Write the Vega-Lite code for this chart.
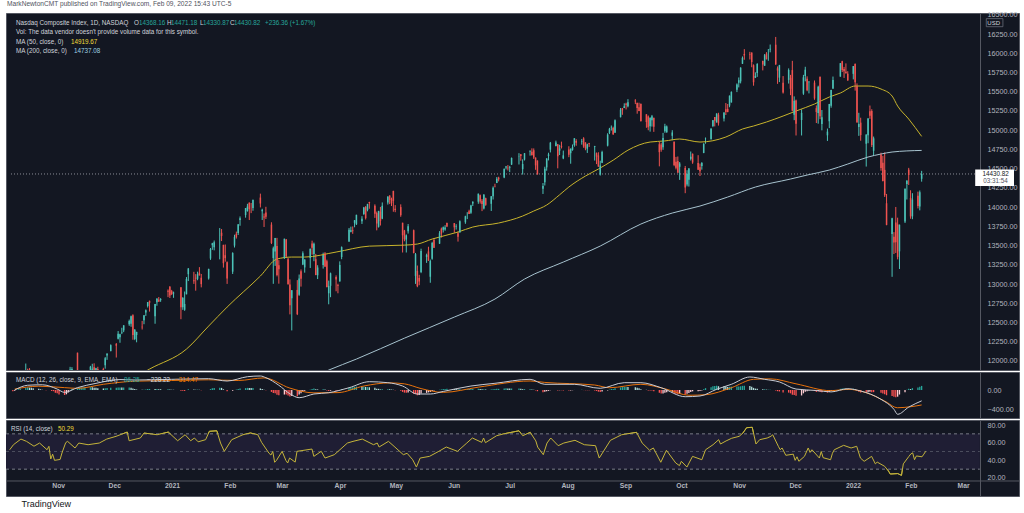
{
"$schema":"https://vega.github.io/schema/vega-lite/v6.json",
"background":"#ffffff",
"padding":{"left":5,"top":0,"right":6,"bottom":0},
"title":{"text":"MarkNewtonCMT published on TradingView.com, Feb 09, 2022 15:43 UTC-5","anchor":"start","frame":"group","fontSize":6.6,"font":"Liberation Sans","fontWeight":"normal","color":"#50535e","offset":3,"dx":1},
"spacing":0,
"datasets":{
"ohlc":[
{"d":"2020-10-05","o":11200,"h":11340,"l":11190,"c":11332,"m":-25},
{"d":"2020-10-06","o":11350,"h":11422,"l":11090,"c":11154,"m":-15},
{"d":"2020-10-07","o":11270,"h":11378,"l":11250,"c":11364,"m":0},
{"d":"2020-10-08","o":11425,"h":11441,"l":11357,"c":11420,"m":15},
{"d":"2020-10-09","o":11475,"h":11580,"l":11457,"c":11580,"m":30},
{"d":"2020-10-12","o":11680,"h":11967,"l":11662,"c":11876,"m":50},
{"d":"2020-10-13","o":11875,"h":11900,"l":11790,"c":11863,"m":55},
{"d":"2020-10-14","o":11890,"h":11908,"l":11720,"c":11768,"m":50},
{"d":"2020-10-15","o":11580,"h":11752,"l":11560,"c":11714,"m":45},
{"d":"2020-10-16","o":11760,"h":11786,"l":11666,"c":11672,"m":38},
{"d":"2020-10-19","o":11714,"h":11776,"l":11440,"c":11479,"m":25},
{"d":"2020-10-20","o":11560,"h":11620,"l":11489,"c":11517,"m":15},
{"d":"2020-10-21","o":11496,"h":11588,"l":11478,"c":11484,"m":5},
{"d":"2020-10-22","o":11488,"h":11541,"l":11380,"c":11506,"m":-2},
{"d":"2020-10-23","o":11540,"h":11548,"l":11451,"c":11548,"m":-5},
{"d":"2020-10-26","o":11460,"h":11580,"l":11223,"c":11358,"m":-20},
{"d":"2020-10-27","o":11391,"h":11449,"l":11357,"c":11431,"m":-25},
{"d":"2020-10-28","o":11230,"h":11230,"l":10997,"c":11005,"m":-60},
{"d":"2020-10-29","o":11064,"h":11315,"l":11020,"c":11186,"m":-70},
{"d":"2020-10-30","o":11104,"h":11115,"l":10822,"c":10912,"m":-95},
{"d":"2020-11-02","o":10997,"h":11040,"l":10856,"c":10958,"m":-105},
{"d":"2020-11-03","o":11011,"h":11202,"l":11005,"c":11161,"m":-90},
{"d":"2020-11-04","o":11449,"h":11623,"l":11349,"c":11590,"m":-50},
{"d":"2020-11-05","o":11789,"h":11924,"l":11755,"c":11891,"m":-5},
{"d":"2020-11-06","o":11854,"h":11920,"l":11749,"c":11895,"m":25},
{"d":"2020-11-09","o":12108,"h":12108,"l":11697,"c":11714,"m":40},
{"d":"2020-11-10","o":11624,"h":11646,"l":11429,"c":11554,"m":45},
{"d":"2020-11-11","o":11714,"h":11797,"l":11674,"c":11787,"m":55},
{"d":"2020-11-12","o":11775,"h":11835,"l":11659,"c":11710,"m":55},
{"d":"2020-11-13","o":11751,"h":11839,"l":11692,"c":11829,"m":58},
{"d":"2020-11-16","o":11884,"h":11937,"l":11808,"c":11925,"m":60},
{"d":"2020-11-17","o":11885,"h":11964,"l":11829,"c":11899,"m":58},
{"d":"2020-11-18","o":11920,"h":11970,"l":11801,"c":11802,"m":50},
{"d":"2020-11-19","o":11782,"h":11912,"l":11733,"c":11905,"m":45},
{"d":"2020-11-20","o":11895,"h":11925,"l":11853,"c":11855,"m":38},
{"d":"2020-11-23","o":11895,"h":11912,"l":11758,"c":11881,"m":32},
{"d":"2020-11-24","o":11945,"h":12051,"l":11900,"c":12037,"m":35},
{"d":"2020-11-25","o":12071,"h":12102,"l":12015,"c":12094,"m":40},
{"d":"2020-11-27","o":12128,"h":12216,"l":12127,"c":12206,"m":48},
{"d":"2020-11-30","o":12220,"h":12234,"l":12045,"c":12199,"m":50},
{"d":"2020-12-01","o":12290,"h":12389,"l":12280,"c":12355,"m":55},
{"d":"2020-12-02","o":12310,"h":12354,"l":12237,"c":12349,"m":55},
{"d":"2020-12-03","o":12369,"h":12432,"l":12350,"c":12377,"m":52},
{"d":"2020-12-04","o":12398,"h":12464,"l":12375,"c":12464,"m":52},
{"d":"2020-12-07","o":12476,"h":12538,"l":12457,"c":12519,"m":52},
{"d":"2020-12-08","o":12484,"h":12590,"l":12445,"c":12583,"m":50},
{"d":"2020-12-09","o":12595,"h":12607,"l":12276,"c":12339,"m":30},
{"d":"2020-12-10","o":12285,"h":12415,"l":12271,"c":12405,"m":20},
{"d":"2020-12-11","o":12338,"h":12380,"l":12243,"c":12378,"m":10},
{"d":"2020-12-14","o":12446,"h":12521,"l":12409,"c":12440,"m":5},
{"d":"2020-12-15","o":12530,"h":12595,"l":12478,"c":12595,"m":8},
{"d":"2020-12-16","o":12631,"h":12670,"l":12586,"c":12658,"m":12},
{"d":"2020-12-17","o":12714,"h":12765,"l":12695,"c":12765,"m":20},
{"d":"2020-12-18","o":12782,"h":12785,"l":12642,"c":12756,"m":22},
{"d":"2020-12-21","o":12583,"h":12742,"l":12484,"c":12742,"m":20},
{"d":"2020-12-22","o":12765,"h":12817,"l":12718,"c":12808,"m":22},
{"d":"2020-12-23","o":12797,"h":12832,"l":12771,"c":12771,"m":18},
{"d":"2020-12-24","o":12791,"h":12817,"l":12769,"c":12805,"m":16},
{"d":"2020-12-28","o":12914,"h":12930,"l":12830,"c":12900,"m":18},
{"d":"2020-12-29","o":12965,"h":12974,"l":12819,"c":12851,"m":12},
{"d":"2020-12-30","o":12907,"h":12924,"l":12857,"c":12870,"m":8},
{"d":"2020-12-31","o":12878,"h":12902,"l":12821,"c":12888,"m":5},
{"d":"2021-01-04","o":12958,"h":12958,"l":12543,"c":12699,"m":-15},
{"d":"2021-01-05","o":12698,"h":12831,"l":12665,"c":12819,"m":-15},
{"d":"2021-01-06","o":12666,"h":12903,"l":12652,"c":12741,"m":-20},
{"d":"2021-01-07","o":12867,"h":13091,"l":12867,"c":13067,"m":0},
{"d":"2021-01-08","o":13128,"h":13208,"l":13039,"c":13202,"m":15},
{"d":"2021-01-11","o":13048,"h":13159,"l":13002,"c":13036,"m":10},
{"d":"2021-01-12","o":13082,"h":13129,"l":12914,"c":13072,"m":8},
{"d":"2021-01-13","o":13069,"h":13161,"l":13050,"c":13129,"m":8},
{"d":"2021-01-14","o":13146,"h":13220,"l":13112,"c":13112,"m":5},
{"d":"2021-01-15","o":13082,"h":13131,"l":12957,"c":12999,"m":-5},
{"d":"2021-01-19","o":13073,"h":13199,"l":13058,"c":13197,"m":0},
{"d":"2021-01-20","o":13332,"h":13469,"l":13314,"c":13457,"m":20},
{"d":"2021-01-21","o":13505,"h":13536,"l":13445,"c":13530,"m":35},
{"d":"2021-01-22","o":13477,"h":13566,"l":13438,"c":13543,"m":42},
{"d":"2021-01-25","o":13635,"h":13728,"l":13321,"c":13636,"m":48},
{"d":"2021-01-26","o":13667,"h":13715,"l":13559,"c":13626,"m":45},
{"d":"2021-01-27","o":13510,"h":13510,"l":13214,"c":13271,"m":15},
{"d":"2021-01-28","o":13375,"h":13514,"l":13291,"c":13337,"m":0},
{"d":"2021-01-29","o":13285,"h":13294,"l":13002,"c":13071,"m":-25},
{"d":"2021-02-01","o":13161,"h":13413,"l":13131,"c":13403,"m":-15},
{"d":"2021-02-02","o":13500,"h":13641,"l":13475,"c":13612,"m":0},
{"d":"2021-02-03","o":13653,"h":13682,"l":13591,"c":13610,"m":8},
{"d":"2021-02-04","o":13662,"h":13777,"l":13638,"c":13778,"m":20},
{"d":"2021-02-05","o":13832,"h":13879,"l":13758,"c":13856,"m":30},
{"d":"2021-02-08","o":13898,"h":13988,"l":13863,"c":13988,"m":40},
{"d":"2021-02-09","o":13950,"h":14043,"l":13941,"c":14008,"m":45},
{"d":"2021-02-10","o":14057,"h":14062,"l":13832,"c":13973,"m":42},
{"d":"2021-02-11","o":14027,"h":14054,"l":13922,"c":14026,"m":40},
{"d":"2021-02-12","o":13988,"h":14095,"l":13953,"c":14095,"m":40},
{"d":"2021-02-16","o":14124,"h":14175,"l":13996,"c":14047,"m":32},
{"d":"2021-02-17","o":13946,"h":13979,"l":13832,"c":13966,"m":20},
{"d":"2021-02-18","o":13877,"h":13917,"l":13742,"c":13865,"m":5},
{"d":"2021-02-19","o":13930,"h":14004,"l":13846,"c":13874,"m":-5},
{"d":"2021-02-22","o":13773,"h":13803,"l":13520,"c":13534,"m":-40},
{"d":"2021-02-23","o":13338,"h":13487,"l":13003,"c":13465,"m":-65},
{"d":"2021-02-24","o":13424,"h":13600,"l":13236,"c":13598,"m":-70},
{"d":"2021-02-25","o":13494,"h":13600,"l":13100,"c":13119,"m":-100},
{"d":"2021-02-26","o":13246,"h":13311,"l":13005,"c":13192,"m":-110},
{"d":"2021-03-01","o":13338,"h":13590,"l":13326,"c":13589,"m":-95},
{"d":"2021-03-02","o":13580,"h":13586,"l":13339,"c":13359,"m":-95},
{"d":"2021-03-03","o":13321,"h":13339,"l":12994,"c":12998,"m":-115},
{"d":"2021-03-04","o":12993,"h":13061,"l":12606,"c":12723,"m":-135},
{"d":"2021-03-05","o":12817,"h":12921,"l":12397,"c":12921,"m":-125},
{"d":"2021-03-08","o":12924,"h":13051,"l":12597,"c":12609,"m":-130},
{"d":"2021-03-09","o":12861,"h":13124,"l":12847,"c":13073,"m":-95},
{"d":"2021-03-10","o":13165,"h":13190,"l":12967,"c":13068,"m":-70},
{"d":"2021-03-11","o":13254,"h":13425,"l":13246,"c":13399,"m":-35},
{"d":"2021-03-12","o":13216,"h":13320,"l":13148,"c":13320,"m":-15},
{"d":"2021-03-15","o":13339,"h":13460,"l":13209,"c":13460,"m":5},
{"d":"2021-03-16","o":13526,"h":13564,"l":13381,"c":13472,"m":20},
{"d":"2021-03-17","o":13390,"h":13539,"l":13297,"c":13525,"m":30},
{"d":"2021-03-18","o":13324,"h":13392,"l":13115,"c":13117,"m":15},
{"d":"2021-03-19","o":13114,"h":13245,"l":13065,"c":13215,"m":12},
{"d":"2021-03-22","o":13249,"h":13408,"l":13201,"c":13378,"m":18},
{"d":"2021-03-23","o":13397,"h":13415,"l":13221,"c":13228,"m":12},
{"d":"2021-03-24","o":13295,"h":13317,"l":12956,"c":12962,"m":-10},
{"d":"2021-03-25","o":12880,"h":13045,"l":12737,"c":12977,"m":-20},
{"d":"2021-03-26","o":12977,"h":13149,"l":12829,"c":13139,"m":-15},
{"d":"2021-03-29","o":13091,"h":13113,"l":12906,"c":13060,"m":-15},
{"d":"2021-03-30","o":12987,"h":13004,"l":12880,"c":12977,"m":-15},
{"d":"2021-03-31","o":13034,"h":13295,"l":13034,"c":13247,"m":0},
{"d":"2021-04-01","o":13352,"h":13489,"l":13323,"c":13480,"m":20},
{"d":"2021-04-05","o":13552,"h":13729,"l":13548,"c":13705,"m":45},
{"d":"2021-04-06","o":13681,"h":13746,"l":13672,"c":13698,"m":55},
{"d":"2021-04-07","o":13698,"h":13749,"l":13653,"c":13688,"m":60},
{"d":"2021-04-08","o":13796,"h":13830,"l":13738,"c":13830,"m":68},
{"d":"2021-04-09","o":13778,"h":13901,"l":13768,"c":13900,"m":72},
{"d":"2021-04-12","o":13815,"h":13882,"l":13781,"c":13850,"m":70},
{"d":"2021-04-13","o":13911,"h":14003,"l":13899,"c":13996,"m":72},
{"d":"2021-04-14","o":14005,"h":14012,"l":13839,"c":13857,"m":62},
{"d":"2021-04-15","o":13962,"h":14043,"l":13945,"c":14039,"m":62},
{"d":"2021-04-16","o":14067,"h":14069,"l":13979,"c":14052,"m":58},
{"d":"2021-04-19","o":14017,"h":14036,"l":13860,"c":13914,"m":45},
{"d":"2021-04-20","o":13922,"h":13942,"l":13698,"c":13787,"m":28},
{"d":"2021-04-21","o":13744,"h":13951,"l":13734,"c":13951,"m":25},
{"d":"2021-04-22","o":13940,"h":14003,"l":13761,"c":13818,"m":12},
{"d":"2021-04-23","o":13850,"h":14061,"l":13843,"c":14017,"m":15},
{"d":"2021-04-26","o":14059,"h":14139,"l":14033,"c":14138,"m":18},
{"d":"2021-04-27","o":14151,"h":14153,"l":14039,"c":14091,"m":15},
{"d":"2021-04-28","o":14101,"h":14123,"l":14014,"c":14051,"m":10},
{"d":"2021-04-29","o":14211,"h":14212,"l":13940,"c":14082,"m":5},
{"d":"2021-04-30","o":13978,"h":14026,"l":13934,"c":13963,"m":-5},
{"d":"2021-05-03","o":14000,"h":14036,"l":13874,"c":13895,"m":-15},
{"d":"2021-05-04","o":13797,"h":13797,"l":13410,"c":13634,"m":-40},
{"d":"2021-05-05","o":13695,"h":13704,"l":13556,"c":13582,"m":-55},
{"d":"2021-05-06","o":13577,"h":13645,"l":13410,"c":13633,"m":-60},
{"d":"2021-05-07","o":13685,"h":13780,"l":13656,"c":13752,"m":-55},
{"d":"2021-05-10","o":13700,"h":13708,"l":13400,"c":13402,"m":-80},
{"d":"2021-05-11","o":13106,"h":13404,"l":13002,"c":13389,"m":-85},
{"d":"2021-05-12","o":13171,"h":13241,"l":12959,"c":12972,"m":-110},
{"d":"2021-05-13","o":13079,"h":13120,"l":12985,"c":13032,"m":-105},
{"d":"2021-05-14","o":13156,"h":13460,"l":13142,"c":13430,"m":-75},
{"d":"2021-05-17","o":13352,"h":13395,"l":13275,"c":13380,"m":-60},
{"d":"2021-05-18","o":13424,"h":13485,"l":13301,"c":13303,"m":-50},
{"d":"2021-05-19","o":13095,"h":13318,"l":13017,"c":13300,"m":-40},
{"d":"2021-05-20","o":13330,"h":13549,"l":13316,"c":13535,"m":-20},
{"d":"2021-05-21","o":13574,"h":13599,"l":13469,"c":13471,"m":-10},
{"d":"2021-05-24","o":13525,"h":13688,"l":13522,"c":13661,"m":5},
{"d":"2021-05-25","o":13720,"h":13734,"l":13604,"c":13657,"m":12},
{"d":"2021-05-26","o":13705,"h":13748,"l":13670,"c":13738,"m":20},
{"d":"2021-05-27","o":13710,"h":13765,"l":13693,"c":13736,"m":22},
{"d":"2021-05-28","o":13792,"h":13799,"l":13740,"c":13749,"m":24},
{"d":"2021-06-01","o":13792,"h":13793,"l":13667,"c":13737,"m":22},
{"d":"2021-06-02","o":13747,"h":13778,"l":13708,"c":13756,"m":20},
{"d":"2021-06-03","o":13660,"h":13682,"l":13552,"c":13615,"m":12},
{"d":"2021-06-04","o":13671,"h":13828,"l":13671,"c":13815,"m":15},
{"d":"2021-06-07","o":13803,"h":13888,"l":13783,"c":13881,"m":18},
{"d":"2021-06-08","o":13924,"h":13934,"l":13844,"c":13925,"m":20},
{"d":"2021-06-09","o":13945,"h":13966,"l":13910,"c":13911,"m":18},
{"d":"2021-06-10","o":13926,"h":14030,"l":13912,"c":14020,"m":20},
{"d":"2021-06-11","o":14047,"h":14075,"l":14014,"c":14069,"m":22},
{"d":"2021-06-14","o":14070,"h":14175,"l":14043,"c":14175,"m":28},
{"d":"2021-06-15","o":14155,"h":14163,"l":14046,"c":14073,"m":22},
{"d":"2021-06-16","o":14084,"h":14106,"l":13948,"c":14040,"m":15},
{"d":"2021-06-17","o":13981,"h":14170,"l":13970,"c":14161,"m":18},
{"d":"2021-06-18","o":14116,"h":14123,"l":14017,"c":14030,"m":10},
{"d":"2021-06-21","o":14043,"h":14143,"l":13950,"c":14141,"m":12},
{"d":"2021-06-22","o":14140,"h":14269,"l":14099,"c":14253,"m":18},
{"d":"2021-06-23","o":14273,"h":14304,"l":14257,"c":14272,"m":20},
{"d":"2021-06-24","o":14313,"h":14391,"l":14312,"c":14370,"m":25},
{"d":"2021-06-25","o":14383,"h":14395,"l":14334,"c":14360,"m":25},
{"d":"2021-06-28","o":14386,"h":14500,"l":14376,"c":14500,"m":32},
{"d":"2021-06-29","o":14515,"h":14535,"l":14490,"c":14528,"m":35},
{"d":"2021-06-30","o":14511,"h":14547,"l":14476,"c":14504,"m":32},
{"d":"2021-07-01","o":14512,"h":14536,"l":14455,"c":14523,"m":30},
{"d":"2021-07-02","o":14553,"h":14645,"l":14548,"c":14639,"m":32},
{"d":"2021-07-06","o":14662,"h":14701,"l":14554,"c":14663,"m":32},
{"d":"2021-07-07","o":14687,"h":14690,"l":14603,"c":14665,"m":28},
{"d":"2021-07-08","o":14493,"h":14621,"l":14423,"c":14560,"m":15},
{"d":"2021-07-09","o":14618,"h":14701,"l":14606,"c":14701,"m":18},
{"d":"2021-07-12","o":14722,"h":14736,"l":14669,"c":14734,"m":18},
{"d":"2021-07-13","o":14719,"h":14764,"l":14669,"c":14678,"m":12},
{"d":"2021-07-14","o":14739,"h":14763,"l":14626,"c":14645,"m":5},
{"d":"2021-07-15","o":14644,"h":14645,"l":14485,"c":14543,"m":-8},
{"d":"2021-07-16","o":14604,"h":14608,"l":14421,"c":14428,"m":-25},
{"d":"2021-07-19","o":14239,"h":14313,"l":14171,"c":14275,"m":-45},
{"d":"2021-07-20","o":14323,"h":14525,"l":14281,"c":14499,"m":-35},
{"d":"2021-07-21","o":14517,"h":14635,"l":14473,"c":14632,"m":-25},
{"d":"2021-07-22","o":14665,"h":14707,"l":14607,"c":14685,"m":-18},
{"d":"2021-07-23","o":14747,"h":14847,"l":14711,"c":14837,"m":-5},
{"d":"2021-07-26","o":14794,"h":14864,"l":14789,"c":14840,"m":0},
{"d":"2021-07-27","o":14818,"h":14819,"l":14504,"c":14660,"m":-8},
{"d":"2021-07-28","o":14734,"h":14810,"l":14677,"c":14763,"m":-5},
{"d":"2021-07-29","o":14792,"h":14851,"l":14762,"c":14779,"m":-5},
{"d":"2021-07-30","o":14633,"h":14735,"l":14623,"c":14673,"m":-10},
{"d":"2021-08-02","o":14749,"h":14791,"l":14649,"c":14681,"m":-12},
{"d":"2021-08-03","o":14701,"h":14761,"l":14564,"c":14761,"m":-8},
{"d":"2021-08-04","o":14744,"h":14814,"l":14733,"c":14780,"m":-5},
{"d":"2021-08-05","o":14805,"h":14896,"l":14785,"c":14895,"m":2},
{"d":"2021-08-06","o":14859,"h":14883,"l":14798,"c":14836,"m":2},
{"d":"2021-08-09","o":14852,"h":14886,"l":14812,"c":14860,"m":3},
{"d":"2021-08-10","o":14894,"h":14909,"l":14771,"c":14788,"m":-2},
{"d":"2021-08-11","o":14840,"h":14842,"l":14739,"c":14765,"m":-5},
{"d":"2021-08-12","o":14760,"h":14824,"l":14704,"c":14816,"m":-5},
{"d":"2021-08-13","o":14832,"h":14835,"l":14782,"c":14823,"m":-5},
{"d":"2021-08-16","o":14783,"h":14796,"l":14605,"c":14793,"m":-8},
{"d":"2021-08-17","o":14701,"h":14710,"l":14559,"c":14656,"m":-20},
{"d":"2021-08-18","o":14672,"h":14713,"l":14525,"c":14526,"m":-35},
{"d":"2021-08-19","o":14425,"h":14603,"l":14410,"c":14542,"m":-40},
{"d":"2021-08-20","o":14577,"h":14733,"l":14572,"c":14715,"m":-30},
{"d":"2021-08-23","o":14799,"h":14960,"l":14789,"c":14942,"m":-10},
{"d":"2021-08-24","o":14965,"h":15030,"l":14949,"c":15019,"m":8},
{"d":"2021-08-25","o":15037,"h":15061,"l":14995,"c":15042,"m":20},
{"d":"2021-08-26","o":15027,"h":15045,"l":14938,"c":14946,"m":22},
{"d":"2021-08-27","o":14968,"h":15140,"l":14967,"c":15130,"m":35},
{"d":"2021-08-30","o":15169,"h":15288,"l":15166,"c":15266,"m":55},
{"d":"2021-08-31","o":15286,"h":15288,"l":15200,"c":15259,"m":62},
{"d":"2021-09-01","o":15289,"h":15349,"l":15287,"c":15310,"m":65},
{"d":"2021-09-02","o":15343,"h":15357,"l":15269,"c":15331,"m":65},
{"d":"2021-09-03","o":15312,"h":15403,"l":15297,"c":15364,"m":62},
{"d":"2021-09-07","o":15385,"h":15403,"l":15339,"c":15374,"m":58},
{"d":"2021-09-08","o":15355,"h":15355,"l":15214,"c":15287,"m":48},
{"d":"2021-09-09","o":15297,"h":15357,"l":15247,"c":15248,"m":35},
{"d":"2021-09-10","o":15339,"h":15348,"l":15115,"c":15115,"m":18},
{"d":"2021-09-13","o":15207,"h":15207,"l":15031,"c":15106,"m":5},
{"d":"2021-09-14","o":15179,"h":15191,"l":14999,"c":15038,"m":-8},
{"d":"2021-09-15","o":15052,"h":15165,"l":14981,"c":15162,"m":-10},
{"d":"2021-09-16","o":15128,"h":15198,"l":15047,"c":15181,"m":-12},
{"d":"2021-09-17","o":15160,"h":15161,"l":14978,"c":15044,"m":-25},
{"d":"2021-09-20","o":14817,"h":14846,"l":14530,"c":14714,"m":-60},
{"d":"2021-09-21","o":14813,"h":14837,"l":14720,"c":14747,"m":-75},
{"d":"2021-09-22","o":14779,"h":14965,"l":14745,"c":14897,"m":-72},
{"d":"2021-09-23","o":14986,"h":15083,"l":14966,"c":15052,"m":-58},
{"d":"2021-09-24","o":14972,"h":15061,"l":14967,"c":15048,"m":-48},
{"d":"2021-09-27","o":14927,"h":15000,"l":14869,"c":14970,"m":-45},
{"d":"2021-09-28","o":14849,"h":14853,"l":14532,"c":14547,"m":-70},
{"d":"2021-09-29","o":14591,"h":14653,"l":14490,"c":14513,"m":-80},
{"d":"2021-09-30","o":14599,"h":14658,"l":14448,"c":14448,"m":-90},
{"d":"2021-10-01","o":14524,"h":14586,"l":14354,"c":14567,"m":-85},
{"d":"2021-10-04","o":14510,"h":14535,"l":14181,"c":14255,"m":-95},
{"d":"2021-10-05","o":14293,"h":14480,"l":14270,"c":14434,"m":-80},
{"d":"2021-10-06","o":14356,"h":14508,"l":14267,"c":14502,"m":-65},
{"d":"2021-10-07","o":14627,"h":14723,"l":14606,"c":14655,"m":-40},
{"d":"2021-10-08","o":14693,"h":14697,"l":14563,"c":14580,"m":-28},
{"d":"2021-10-11","o":14572,"h":14675,"l":14484,"c":14486,"m":-25},
{"d":"2021-10-12","o":14519,"h":14566,"l":14404,"c":14466,"m":-20},
{"d":"2021-10-13","o":14533,"h":14585,"l":14487,"c":14572,"m":-8},
{"d":"2021-10-14","o":14704,"h":14830,"l":14701,"c":14823,"m":18},
{"d":"2021-10-15","o":14894,"h":14905,"l":14824,"c":14897,"m":40},
{"d":"2021-10-18","o":14882,"h":15022,"l":14879,"c":15022,"m":60},
{"d":"2021-10-19","o":15053,"h":15132,"l":15040,"c":15130,"m":78},
{"d":"2021-10-20","o":15170,"h":15170,"l":15049,"c":15122,"m":85},
{"d":"2021-10-21","o":15103,"h":15219,"l":15097,"c":15216,"m":90},
{"d":"2021-10-22","o":15201,"h":15226,"l":15060,"c":15090,"m":80},
{"d":"2021-10-25","o":15152,"h":15236,"l":15114,"c":15227,"m":78},
{"d":"2021-10-26","o":15272,"h":15353,"l":15197,"c":15236,"m":72},
{"d":"2021-10-27","o":15276,"h":15340,"l":15234,"c":15235,"m":62},
{"d":"2021-10-28","o":15320,"h":15451,"l":15298,"c":15448,"m":68},
{"d":"2021-10-29","o":15361,"h":15504,"l":15359,"c":15498,"m":70},
{"d":"2021-11-01","o":15526,"h":15608,"l":15495,"c":15595,"m":72},
{"d":"2021-11-02","o":15618,"h":15685,"l":15556,"c":15650,"m":72},
{"d":"2021-11-03","o":15634,"h":15818,"l":15608,"c":15812,"m":78},
{"d":"2021-11-04","o":15864,"h":15958,"l":15860,"c":15940,"m":88},
{"d":"2021-11-05","o":15991,"h":16053,"l":15915,"c":15972,"m":90},
{"d":"2021-11-08","o":15989,"h":16018,"l":15919,"c":15982,"m":85},
{"d":"2021-11-09","o":16009,"h":16010,"l":15818,"c":15886,"m":70},
{"d":"2021-11-10","o":15844,"h":15855,"l":15578,"c":15623,"m":45},
{"d":"2021-11-11","o":15681,"h":15752,"l":15677,"c":15704,"m":30},
{"d":"2021-11-12","o":15743,"h":15871,"l":15693,"c":15861,"m":25},
{"d":"2021-11-15","o":15900,"h":15904,"l":15777,"c":15853,"m":15},
{"d":"2021-11-16","o":15837,"h":15990,"l":15837,"c":15974,"m":15},
{"d":"2021-11-17","o":15994,"h":16014,"l":15920,"c":15922,"m":8},
{"d":"2021-11-18","o":15992,"h":16055,"l":15902,"c":15993,"m":8},
{"d":"2021-11-19","o":16048,"h":16113,"l":16012,"c":16057,"m":8},
{"d":"2021-11-22","o":16111,"h":16212,"l":15849,"c":15855,"m":-10},
{"d":"2021-11-23","o":15804,"h":15829,"l":15602,"c":15775,"m":-25},
{"d":"2021-11-24","o":15683,"h":15849,"l":15625,"c":15845,"m":-30},
{"d":"2021-11-26","o":15616,"h":15703,"l":15476,"c":15491,"m":-55},
{"d":"2021-11-29","o":15653,"h":15803,"l":15606,"c":15782,"m":-55},
{"d":"2021-11-30","o":15680,"h":15719,"l":15455,"c":15538,"m":-70},
{"d":"2021-12-01","o":15781,"h":15901,"l":15245,"c":15254,"m":-100},
{"d":"2021-12-02","o":15201,"h":15439,"l":15130,"c":15381,"m":-105},
{"d":"2021-12-03","o":15387,"h":15397,"l":14931,"c":15085,"m":-120},
{"d":"2021-12-06","o":15132,"h":15271,"l":14931,"c":15225,"m":-115},
{"d":"2021-12-07","o":15475,"h":15719,"l":15459,"c":15687,"m":-70},
{"d":"2021-12-08","o":15704,"h":15824,"l":15635,"c":15786,"m":-35},
{"d":"2021-12-09","o":15669,"h":15700,"l":15506,"c":15518,"m":-25},
{"d":"2021-12-10","o":15623,"h":15638,"l":15478,"c":15630,"m":-12},
{"d":"2021-12-13","o":15618,"h":15646,"l":15395,"c":15413,"m":-20},
{"d":"2021-12-14","o":15286,"h":15322,"l":15093,"c":15237,"m":-40},
{"d":"2021-12-15","o":15223,"h":15578,"l":15084,"c":15566,"m":-25},
{"d":"2021-12-16","o":15694,"h":15696,"l":15143,"c":15180,"m":-40},
{"d":"2021-12-17","o":15079,"h":15262,"l":14998,"c":15169,"m":-45},
{"d":"2021-12-20","o":14933,"h":15021,"l":14860,"c":14981,"m":-55},
{"d":"2021-12-21","o":15116,"h":15341,"l":15027,"c":15341,"m":-40},
{"d":"2021-12-22","o":15319,"h":15525,"l":15292,"c":15522,"m":-22},
{"d":"2021-12-23","o":15543,"h":15697,"l":15536,"c":15653,"m":0},
{"d":"2021-12-27","o":15696,"h":15871,"l":15696,"c":15871,"m":25},
{"d":"2021-12-28","o":15895,"h":15902,"l":15756,"c":15782,"m":30},
{"d":"2021-12-29","o":15794,"h":15822,"l":15679,"c":15766,"m":32},
{"d":"2021-12-30","o":15758,"h":15868,"l":15736,"c":15741,"m":30},
{"d":"2021-12-31","o":15733,"h":15766,"l":15644,"c":15645,"m":25},
{"d":"2022-01-03","o":15732,"h":15833,"l":15660,"c":15833,"m":28},
{"d":"2022-01-04","o":15859,"h":15868,"l":15514,"c":15623,"m":18},
{"d":"2022-01-05","o":15575,"h":15608,"l":15100,"c":15100,"m":-15},
{"d":"2022-01-06","o":15042,"h":15226,"l":14926,"c":15081,"m":-35},
{"d":"2022-01-07","o":15098,"h":15162,"l":14863,"c":14936,"m":-50},
{"d":"2022-01-10","o":14823,"h":14945,"l":14527,"c":14943,"m":-55},
{"d":"2022-01-11","o":14935,"h":15157,"l":14830,"c":15153,"m":-45},
{"d":"2022-01-12","o":15245,"h":15320,"l":15147,"c":15188,"m":-35},
{"d":"2022-01-13","o":15250,"h":15272,"l":14781,"c":14806,"m":-45},
{"d":"2022-01-14","o":14733,"h":14917,"l":14665,"c":14894,"m":-45},
{"d":"2022-01-18","o":14684,"h":14707,"l":14473,"c":14507,"m":-60},
{"d":"2022-01-19","o":14578,"h":14666,"l":14334,"c":14341,"m":-75},
{"d":"2022-01-20","o":14484,"h":14711,"l":14132,"c":14155,"m":-90},
{"d":"2022-01-21","o":14050,"h":14171,"l":13764,"c":13769,"m":-110},
{"d":"2022-01-24","o":13649,"h":13862,"l":13094,"c":13856,"m":-125},
{"d":"2022-01-25","o":13615,"h":13675,"l":13390,"c":13540,"m":-140},
{"d":"2022-01-26","o":13800,"h":14002,"l":13404,"c":13542,"m":-150},
{"d":"2022-01-27","o":13776,"h":13863,"l":13321,"c":13353,"m":-140},
{"d":"2022-01-28","o":13425,"h":13773,"l":13196,"c":13771,"m":-95},
{"d":"2022-01-31","o":13812,"h":14242,"l":13793,"c":14240,"m":-45},
{"d":"2022-02-01","o":14299,"h":14346,"l":14099,"c":14346,"m":5},
{"d":"2022-02-02","o":14487,"h":14510,"l":14288,"c":14417,"m":25},
{"d":"2022-02-03","o":14118,"h":14219,"l":13849,"c":13879,"m":20},
{"d":"2022-02-04","o":13880,"h":14181,"l":13843,"c":14098,"m":40},
{"d":"2022-02-07","o":14149,"h":14201,"l":13983,"c":14015,"m":55},
{"d":"2022-02-08","o":14007,"h":14216,"l":13958,"c":14194,"m":70},
{"d":"2022-02-09","o":14368.16,"h":14471.18,"l":14330.87,"c":14430.82,"m":86.25}
],
"ma50":[
{"d":"2020-11-20","v":11500},{"d":"2020-12-04","v":11700},{"d":"2020-12-18","v":11895},{"d":"2021-01-07","v":12155},{"d":"2021-01-19","v":12454},{"d":"2021-01-29","v":12701},{"d":"2021-02-16","v":13104},{"d":"2021-02-25","v":13325},{"d":"2021-03-05","v":13351},{"d":"2021-03-12","v":13351},{"d":"2021-03-29","v":13416},{"d":"2021-04-16","v":13493},{"d":"2021-05-05","v":13506},{"d":"2021-05-12","v":13520},{"d":"2021-05-20","v":13585},{"d":"2021-06-03","v":13676},{"d":"2021-06-11","v":13741},{"d":"2021-06-25","v":13793},{"d":"2021-07-08","v":13884},{"d":"2021-07-14","v":13949},{"d":"2021-07-21","v":14027},{"d":"2021-07-28","v":14160},{"d":"2021-08-02","v":14261},{"d":"2021-08-11","v":14404},{"d":"2021-08-18","v":14495},{"d":"2021-08-26","v":14610},{"d":"2021-09-03","v":14740},{"d":"2021-09-15","v":14846},{"d":"2021-09-23","v":14860},{"d":"2021-10-01","v":14885},{"d":"2021-10-12","v":14846},{"d":"2021-10-26","v":14911},{"d":"2021-11-04","v":15015},{"d":"2021-11-10","v":15054},{"d":"2021-11-17","v":15106},{"d":"2021-11-26","v":15184},{"d":"2021-12-03","v":15249},{"d":"2021-12-13","v":15340},{"d":"2021-12-21","v":15431},{"d":"2021-12-27","v":15483},{"d":"2022-01-04","v":15574},{"d":"2022-01-11","v":15574},{"d":"2022-01-18","v":15535},{"d":"2022-01-24","v":15444},{"d":"2022-01-27","v":15314},{"d":"2022-02-02","v":15145},{"d":"2022-02-09","v":14919.67}
],
"ma200":[
{"d":"2021-02-16","v":11450},{"d":"2021-03-25","v":11882},{"d":"2021-04-09","v":12025},{"d":"2021-05-05","v":12297},{"d":"2021-06-01","v":12571},{"d":"2021-06-23","v":12805},{"d":"2021-07-09","v":13065},{"d":"2021-07-30","v":13286},{"d":"2021-08-19","v":13494},{"d":"2021-09-10","v":13780},{"d":"2021-09-27","v":13923},{"d":"2021-10-12","v":14014},{"d":"2021-10-27","v":14131},{"d":"2021-11-11","v":14261},{"d":"2021-11-30","v":14365},{"d":"2021-12-09","v":14417},{"d":"2021-12-21","v":14482},{"d":"2021-12-31","v":14560},{"d":"2022-01-11","v":14651},{"d":"2022-01-18","v":14690},{"d":"2022-01-24","v":14716},{"d":"2022-02-09","v":14737.08}
],
"macd":[
{"d":"2020-10-06","v":0},{"d":"2020-10-13","v":100},{"d":"2020-10-21","v":110},{"d":"2020-10-29","v":20},{"d":"2020-11-02","v":-50},{"d":"2020-11-09","v":50},{"d":"2020-11-19","v":140},{"d":"2020-12-02","v":220},{"d":"2020-12-10","v":210},{"d":"2020-12-30","v":225},{"d":"2021-01-19","v":238},{"d":"2021-01-29","v":189},{"d":"2021-02-09","v":280},{"d":"2021-02-16","v":295},{"d":"2021-02-19","v":259},{"d":"2021-02-26","v":100},{"d":"2021-03-04","v":-80},{"d":"2021-03-09","v":-162},{"d":"2021-03-17","v":-84},{"d":"2021-03-25","v":-57},{"d":"2021-04-05","v":48},{"d":"2021-04-16","v":175},{"d":"2021-04-26","v":154},{"d":"2021-05-04","v":84},{"d":"2021-05-12","v":-84},{"d":"2021-05-19","v":-84},{"d":"2021-05-26","v":-30},{"d":"2021-06-10","v":84},{"d":"2021-06-23","v":141},{"d":"2021-07-12","v":225},{"d":"2021-07-20","v":120},{"d":"2021-08-05","v":120},{"d":"2021-08-19","v":36},{"d":"2021-09-01","v":154},{"d":"2021-09-10","v":154},{"d":"2021-09-21","v":48},{"d":"2021-10-04","v":-141},{"d":"2021-10-12","v":-126},{"d":"2021-10-21","v":15},{"d":"2021-10-29","v":120},{"d":"2021-11-08","v":274},{"d":"2021-11-16","v":225},{"d":"2021-11-24","v":170},{"d":"2021-12-03","v":20},{"d":"2021-12-14","v":-10},{"d":"2021-12-22","v":-40},{"d":"2021-12-31","v":27},{"d":"2022-01-07","v":-21},{"d":"2022-01-18","v":-196},{"d":"2022-01-25","v":-406},{"d":"2022-01-27","v":-511},{"d":"2022-02-02","v":-360},{"d":"2022-02-09","v":-228.22}
],
"signal":[
{"d":"2020-10-06","v":20},{"d":"2020-10-19","v":80},{"d":"2020-11-02","v":50},{"d":"2020-11-09","v":35},{"d":"2020-11-23","v":120},{"d":"2020-12-10","v":185},{"d":"2020-12-30","v":200},{"d":"2021-01-19","v":215},{"d":"2021-02-04","v":200},{"d":"2021-02-18","v":255},{"d":"2021-03-04","v":40},{"d":"2021-03-17","v":-60},{"d":"2021-03-30","v":-55},{"d":"2021-04-13","v":84},{"d":"2021-04-27","v":150},{"d":"2021-05-05","v":130},{"d":"2021-05-14","v":30},{"d":"2021-05-26","v":-50},{"d":"2021-06-14","v":60},{"d":"2021-07-12","v":190},{"d":"2021-07-20","v":160},{"d":"2021-08-16","v":105},{"d":"2021-08-24","v":48},{"d":"2021-09-10","v":120},{"d":"2021-09-24","v":15},{"d":"2021-10-06","v":-110},{"d":"2021-10-15","v":-100},{"d":"2021-10-29","v":48},{"d":"2021-11-10","v":225},{"d":"2021-11-19","v":235},{"d":"2021-12-03","v":130},{"d":"2021-12-22","v":-15},{"d":"2021-12-31","v":15},{"d":"2022-01-10","v":-57},{"d":"2022-01-20","v":-232},{"d":"2022-01-27","v":-373},{"d":"2022-02-03","v":-352},{"d":"2022-02-09","v":-314.47}
],
"rsi":[
{"d":"2020-10-06","v":52},{"d":"2020-10-08","v":57.7},{"d":"2020-10-12","v":64.1},{"d":"2020-10-15","v":61.5},{"d":"2020-10-19","v":56},{"d":"2020-10-22","v":59.6},{"d":"2020-10-26","v":52},{"d":"2020-10-27","v":55.9},{"d":"2020-10-28","v":41.5},{"d":"2020-10-29","v":47},{"d":"2020-10-30","v":40},{"d":"2020-11-02","v":41},{"d":"2020-11-03","v":48.3},{"d":"2020-11-05","v":60},{"d":"2020-11-06","v":61.5},{"d":"2020-11-10","v":54},{"d":"2020-11-12","v":59.6},{"d":"2020-11-17","v":57.7},{"d":"2020-11-23","v":59.6},{"d":"2020-11-27","v":64.1},{"d":"2020-12-02","v":67.2},{"d":"2020-12-08","v":72},{"d":"2020-12-09","v":62.2},{"d":"2020-12-15","v":65.3},{"d":"2020-12-17","v":70.9},{"d":"2020-12-24","v":69},{"d":"2020-12-30","v":72},{"d":"2021-01-04","v":62.2},{"d":"2021-01-08","v":69},{"d":"2021-01-11","v":62.2},{"d":"2021-01-13","v":65.3},{"d":"2021-01-15","v":61},{"d":"2021-01-19","v":63.4},{"d":"2021-01-21","v":72.9},{"d":"2021-01-25","v":73.5},{"d":"2021-01-27","v":59.6},{"d":"2021-01-29","v":50.2},{"d":"2021-02-02","v":63.4},{"d":"2021-02-08","v":69},{"d":"2021-02-12","v":71},{"d":"2021-02-16","v":69},{"d":"2021-02-18","v":60.4},{"d":"2021-02-22","v":48},{"d":"2021-02-23","v":46},{"d":"2021-02-24","v":50},{"d":"2021-02-25","v":37.8},{"d":"2021-02-26","v":40},{"d":"2021-03-01","v":50.2},{"d":"2021-03-03","v":40},{"d":"2021-03-04","v":37},{"d":"2021-03-05","v":42.6},{"d":"2021-03-08","v":38},{"d":"2021-03-09","v":50.2},{"d":"2021-03-17","v":52.8},{"d":"2021-03-18","v":44.5},{"d":"2021-03-22","v":50.2},{"d":"2021-03-24","v":42.6},{"d":"2021-03-29","v":46.4},{"d":"2021-04-05","v":59.6},{"d":"2021-04-08","v":61.5},{"d":"2021-04-13","v":64.1},{"d":"2021-04-19","v":57.7},{"d":"2021-04-21","v":59.6},{"d":"2021-04-22","v":55.1},{"d":"2021-04-27","v":61.5},{"d":"2021-04-30","v":55.9},{"d":"2021-05-05","v":46.4},{"d":"2021-05-07","v":48},{"d":"2021-05-10","v":40.7},{"d":"2021-05-12","v":32.4},{"d":"2021-05-14","v":42.6},{"d":"2021-05-19","v":44.5},{"d":"2021-05-24","v":50.2},{"d":"2021-05-28","v":55.1},{"d":"2021-06-03","v":50.2},{"d":"2021-06-08","v":59.6},{"d":"2021-06-11","v":65.3},{"d":"2021-06-16","v":60.4},{"d":"2021-06-17","v":65.3},{"d":"2021-06-18","v":60},{"d":"2021-06-24","v":67.9},{"d":"2021-06-28","v":70.1},{"d":"2021-07-06","v":73.5},{"d":"2021-07-08","v":67.9},{"d":"2021-07-12","v":71.7},{"d":"2021-07-15","v":62},{"d":"2021-07-16","v":55},{"d":"2021-07-19","v":46.4},{"d":"2021-07-21","v":59.6},{"d":"2021-07-23","v":65.3},{"d":"2021-07-27","v":56.6},{"d":"2021-07-30","v":59.6},{"d":"2021-08-05","v":62.7},{"d":"2021-08-10","v":57.7},{"d":"2021-08-16","v":56.6},{"d":"2021-08-18","v":42.6},{"d":"2021-08-24","v":62.7},{"d":"2021-08-30","v":69},{"d":"2021-09-07","v":71.7},{"d":"2021-09-10","v":59.6},{"d":"2021-09-14","v":51.4},{"d":"2021-09-16","v":54},{"d":"2021-09-20","v":37.8},{"d":"2021-09-23","v":51.4},{"d":"2021-09-28","v":37},{"d":"2021-09-30","v":34},{"d":"2021-10-01","v":38.9},{"d":"2021-10-04","v":32.4},{"d":"2021-10-07","v":44.5},{"d":"2021-10-12","v":40.7},{"d":"2021-10-14","v":52},{"d":"2021-10-18","v":57.7},{"d":"2021-10-21","v":63.4},{"d":"2021-10-22","v":58.5},{"d":"2021-10-25","v":62},{"d":"2021-10-28","v":65},{"d":"2021-11-01","v":67.2},{"d":"2021-11-03","v":70.9},{"d":"2021-11-05","v":77},{"d":"2021-11-08","v":77.4},{"d":"2021-11-10","v":58.5},{"d":"2021-11-12","v":63.4},{"d":"2021-11-16","v":65.3},{"d":"2021-11-18","v":67.2},{"d":"2021-11-19","v":69},{"d":"2021-11-22","v":55.9},{"d":"2021-11-23","v":52},{"d":"2021-11-24","v":54},{"d":"2021-11-26","v":45.7},{"d":"2021-11-30","v":47},{"d":"2021-12-01","v":40},{"d":"2021-12-02","v":44},{"d":"2021-12-03","v":38.9},{"d":"2021-12-06","v":44.5},{"d":"2021-12-08","v":54},{"d":"2021-12-09","v":49},{"d":"2021-12-10","v":52},{"d":"2021-12-14","v":42.6},{"d":"2021-12-15","v":50},{"d":"2021-12-16","v":43},{"d":"2021-12-20","v":40.7},{"d":"2021-12-21","v":48},{"d":"2021-12-22","v":52},{"d":"2021-12-27","v":57},{"d":"2021-12-31","v":54},{"d":"2022-01-03","v":55.9},{"d":"2022-01-05","v":42.6},{"d":"2022-01-07","v":38.9},{"d":"2022-01-11","v":44.5},{"d":"2022-01-13","v":36},{"d":"2022-01-14","v":38},{"d":"2022-01-18","v":33.2},{"d":"2022-01-20","v":28},{"d":"2022-01-21","v":24.5},{"d":"2022-01-25","v":25},{"d":"2022-01-27","v":23},{"d":"2022-01-28","v":36},{"d":"2022-01-31","v":44.5},{"d":"2022-02-01","v":47.2},{"d":"2022-02-02","v":48.5},{"d":"2022-02-03","v":40.7},{"d":"2022-02-04","v":45},{"d":"2022-02-07","v":44},{"d":"2022-02-08","v":47},{"d":"2022-02-09","v":50.29}
],
"one":[{}]
},
"vconcat":[
{
"width":1013,"height":357,
"layer":[
{"data":{"name":"ohlc"},"mark":{"type":"rule","strokeWidth":1,"clip":true},
 "encoding":{"x":{"field":"d","type":"temporal","scale":{"type":"utc","domain":[{"year":2020,"month":10,"date":4,"utc":true},{"year":2022,"month":3,"date":31,"utc":true}]},"axis":null},
  "y":{"field":"l","type":"quantitative","scale":{"domain":[11883,16523],"zero":false,"nice":false},"axis":{"orient":"right","offset":-39,"values":[12000,12250,12500,12750,13000,13250,13500,13750,14000,14250,14500,14750,15000,15250,15500,15750,16000,16250,16500],"tickCount":40,"format":".2f","title":null,"labelOverlap":false,"labelPadding":7}},
  "y2":{"field":"h"},
  "color":{"condition":{"test":"datum.c >= datum.o","value":"#4cc3b8"},"value":"#ef5350"}}},
{"data":{"name":"one"},"mark":{"type":"rule","color":"#8a8d96","strokeDash":[1,2],"strokeWidth":1},
 "encoding":{"x":{"datum":{"year":2020,"month":10,"date":4,"utc":true},"type":"temporal"},"x2":{"datum":{"year":2022,"month":3,"date":10,"utc":true}},"y":{"datum":14430.82,"type":"quantitative"}}},
{"data":{"name":"ma200"},"mark":{"type":"line","color":"#a7c3cf","strokeWidth":1,"clip":true,"interpolate":"monotone"},
 "encoding":{"x":{"field":"d","type":"temporal"},"y":{"field":"v","type":"quantitative"}}},
{"data":{"name":"ma50"},"mark":{"type":"line","color":"#c8b42c","strokeWidth":1,"clip":true,"interpolate":"monotone"},
 "encoding":{"x":{"field":"d","type":"temporal"},"y":{"field":"v","type":"quantitative"}}},
{"data":{"name":"ohlc"},"mark":{"type":"bar","width":1.5,"clip":true},
 "encoding":{"x":{"field":"d","type":"temporal"},"y":{"field":"o","type":"quantitative"},"y2":{"field":"c"},
  "color":{"condition":{"test":"datum.c >= datum.o","value":"#4cc3b8"},"value":"#ef5350"}}},
{"data":{"name":"one"},"mark":{"type":"text","text":"Nasdaq Composite Index, 1D, NASDAQ","dx":5,"color":"#d1d4dc"},"encoding":{"x":{"datum":{"year":2020,"month":10,"date":4,"utc":true},"type":"temporal"},"y":{"datum":16393,"type":"quantitative"}}},
{"data":{"name":"one"},"mark":{"type":"text","text":"O","dx":123,"color":"#d1d4dc"},"encoding":{"x":{"datum":{"year":2020,"month":10,"date":4,"utc":true},"type":"temporal"},"y":{"datum":16393,"type":"quantitative"}}},
{"data":{"name":"one"},"mark":{"type":"text","text":"14368.16","dx":128,"color":"#26a69a"},"encoding":{"x":{"datum":{"year":2020,"month":10,"date":4,"utc":true},"type":"temporal"},"y":{"datum":16393,"type":"quantitative"}}},
{"data":{"name":"one"},"mark":{"type":"text","text":"H","dx":156,"color":"#d1d4dc"},"encoding":{"x":{"datum":{"year":2020,"month":10,"date":4,"utc":true},"type":"temporal"},"y":{"datum":16393,"type":"quantitative"}}},
{"data":{"name":"one"},"mark":{"type":"text","text":"14471.18","dx":160,"color":"#26a69a"},"encoding":{"x":{"datum":{"year":2020,"month":10,"date":4,"utc":true},"type":"temporal"},"y":{"datum":16393,"type":"quantitative"}}},
{"data":{"name":"one"},"mark":{"type":"text","text":"L","dx":189,"color":"#d1d4dc"},"encoding":{"x":{"datum":{"year":2020,"month":10,"date":4,"utc":true},"type":"temporal"},"y":{"datum":16393,"type":"quantitative"}}},
{"data":{"name":"one"},"mark":{"type":"text","text":"14330.87","dx":192,"color":"#26a69a"},"encoding":{"x":{"datum":{"year":2020,"month":10,"date":4,"utc":true},"type":"temporal"},"y":{"datum":16393,"type":"quantitative"}}},
{"data":{"name":"one"},"mark":{"type":"text","text":"C","dx":219,"color":"#d1d4dc"},"encoding":{"x":{"datum":{"year":2020,"month":10,"date":4,"utc":true},"type":"temporal"},"y":{"datum":16393,"type":"quantitative"}}},
{"data":{"name":"one"},"mark":{"type":"text","text":"14430.82","dx":223,"color":"#26a69a"},"encoding":{"x":{"datum":{"year":2020,"month":10,"date":4,"utc":true},"type":"temporal"},"y":{"datum":16393,"type":"quantitative"}}},
{"data":{"name":"one"},"mark":{"type":"text","text":"+236.36 (+1.67%)","dx":254,"color":"#26a69a"},"encoding":{"x":{"datum":{"year":2020,"month":10,"date":4,"utc":true},"type":"temporal"},"y":{"datum":16393,"type":"quantitative"}}},
{"data":{"name":"one"},"mark":{"type":"text","text":"Vol: The data vendor doesn't provide volume data for this symbol.","dx":5,"color":"#d1d4dc"},"encoding":{"x":{"datum":{"year":2020,"month":10,"date":4,"utc":true},"type":"temporal"},"y":{"datum":16276,"type":"quantitative"}}},
{"data":{"name":"one"},"mark":{"type":"text","text":"MA (50, close, 0)","dx":5,"color":"#d1d4dc"},"encoding":{"x":{"datum":{"year":2020,"month":10,"date":4,"utc":true},"type":"temporal"},"y":{"datum":16146,"type":"quantitative"}}},
{"data":{"name":"one"},"mark":{"type":"text","text":"14919.67","dx":60,"color":"#f0dc3a"},"encoding":{"x":{"datum":{"year":2020,"month":10,"date":4,"utc":true},"type":"temporal"},"y":{"datum":16146,"type":"quantitative"}}},
{"data":{"name":"one"},"mark":{"type":"text","text":"MA (200, close, 0)","dx":5,"color":"#d1d4dc"},"encoding":{"x":{"datum":{"year":2020,"month":10,"date":4,"utc":true},"type":"temporal"},"y":{"datum":16029,"type":"quantitative"}}},
{"data":{"name":"one"},"mark":{"type":"text","text":"14737.08","dx":63,"color":"#9fd0e0"},"encoding":{"x":{"datum":{"year":2020,"month":10,"date":4,"utc":true},"type":"temporal"},"y":{"datum":16029,"type":"quantitative"}}},
{"data":{"name":"one"},"mark":{"type":"rect","color":"#ffffff"},"encoding":{"x":{"datum":{"year":2022,"month":3,"date":10,"utc":true},"type":"temporal"},"x2":{"datum":{"year":2022,"month":3,"date":31,"utc":true}},"y":{"datum":14490,"type":"quantitative"},"y2":{"datum":14275}}},
{"data":{"name":"one"},"mark":{"type":"text","text":"14430.82","align":"center","fontSize":6.3,"color":"#131722"},"encoding":{"x":{"datum":{"year":2022,"month":3,"date":21,"utc":true},"type":"temporal"},"y":{"datum":14425,"type":"quantitative"}}},
{"data":{"name":"one"},"mark":{"type":"text","text":"03:31:54","align":"center","fontSize":6.3,"color":"#50535e"},"encoding":{"x":{"datum":{"year":2022,"month":3,"date":21,"utc":true},"type":"temporal"},"y":{"datum":14337,"type":"quantitative"}}},
{"data":{"name":"one"},"mark":{"type":"rect","fill":"#131722","stroke":"#6a6d78","strokeWidth":0.8},"encoding":{"x":{"datum":{"year":2022,"month":3,"date":16,"utc":true},"type":"temporal"},"x2":{"datum":{"year":2022,"month":3,"date":25,"utc":true}},"y":{"datum":16450,"type":"quantitative"},"y2":{"datum":16345}}},
{"data":{"name":"one"},"mark":{"type":"text","text":"USD","align":"center","fontSize":6,"color":"#d1d4dc"},"encoding":{"x":{"datum":{"year":2022,"month":3,"date":20,"utc":true},"type":"temporal"},"y":{"datum":16398,"type":"quantitative"}}}
]
},
{
"width":1013,"height":46,
"layer":[
{"data":{"name":"ohlc"},"transform":[{"window":[{"op":"lag","field":"m","as":"pm"}],"sort":[{"field":"d"}]}],
 "mark":{"type":"bar","width":1.3,"clip":true},
 "encoding":{"x":{"field":"d","type":"temporal","scale":{"type":"utc","domain":[{"year":2020,"month":10,"date":4,"utc":true},{"year":2022,"month":3,"date":31,"utc":true}]},"axis":null},
  "y":{"field":"m","type":"quantitative","scale":{"domain":[-589,379],"zero":false,"nice":false},"axis":{"orient":"right","offset":-39,"values":[0,-400],"tickCount":10,"format":".2f","title":null,"labelOverlap":false,"labelPadding":7}},
  "y2":{"datum":0},
  "color":{"condition":[{"test":"datum.m >= 0 && (datum.pm == null || datum.m >= datum.pm)","value":"#26a69a"},{"test":"datum.m >= 0","value":"#b2dfdb"},{"test":"datum.m > datum.pm","value":"#ffcdd2"}],"value":"#ff5252"}}},
{"data":{"name":"signal"},"mark":{"type":"line","color":"#e8720c","strokeWidth":1,"clip":true,"interpolate":"monotone"},
 "encoding":{"x":{"field":"d","type":"temporal"},"y":{"field":"v","type":"quantitative"}}},
{"data":{"name":"macd"},"mark":{"type":"line","color":"#c9ccd4","strokeWidth":1,"clip":true,"interpolate":"monotone"},
 "encoding":{"x":{"field":"d","type":"temporal"},"y":{"field":"v","type":"quantitative"}}},
{"data":{"name":"one"},"mark":{"type":"text","text":"MACD (12, 26, close, 9, EMA, EMA)","dx":5,"color":"#d1d4dc"},"encoding":{"x":{"datum":{"year":2020,"month":10,"date":4,"utc":true},"type":"temporal"},"y":{"datum":204,"type":"quantitative"}}},
{"data":{"name":"one"},"mark":{"type":"text","text":"86.25","dx":113,"color":"#26a69a"},"encoding":{"x":{"datum":{"year":2020,"month":10,"date":4,"utc":true},"type":"temporal"},"y":{"datum":204,"type":"quantitative"}}},
{"data":{"name":"one"},"mark":{"type":"text","text":"−228.22","dx":136,"color":"#e0e3eb"},"encoding":{"x":{"datum":{"year":2020,"month":10,"date":4,"utc":true},"type":"temporal"},"y":{"datum":204,"type":"quantitative"}}},
{"data":{"name":"one"},"mark":{"type":"text","text":"−314.47","dx":164,"color":"#f57c00"},"encoding":{"x":{"datum":{"year":2020,"month":10,"date":4,"utc":true},"type":"temporal"},"y":{"datum":204,"type":"quantitative"}}}
]
},
{
"width":1013,"height":76,
"layer":[
{"data":{"name":"rsi"},"mark":{"type":"line","color":"#c4b43a","strokeWidth":1,"clip":true},
 "encoding":{"x":{"field":"d","type":"temporal","scale":{"type":"utc","domain":[{"year":2020,"month":10,"date":4,"utc":true},{"year":2022,"month":3,"date":31,"utc":true}]},
   "axis":{"orient":"bottom","offset":-15,"tickCount":{"interval":"month","step":1},"labelExpr":"utcmonth(datum.value) == 0 ? utcFormat(datum.value, '%Y') : utcFormat(datum.value, '%b')","domain":false,"ticks":false,"grid":false,"labelPadding":1,"labelFontWeight":"bold","labelFontSize":6.8,"labelOverlap":false,"title":"TradingView","titleAnchor":"start","titleAlign":"left","titleColor":"#131722","titleFontSize":9,"titleFontWeight":"normal","titlePadding":11,"titleX":15}},
  "y":{"field":"v","type":"quantitative","scale":{"domain":[-0.4,85.7],"zero":false,"nice":false},"axis":{"orient":"right","offset":-39,"values":[80,60,40,20],"tickCount":20,"format":".2f","title":null,"labelOverlap":false,"labelPadding":7}}}},
{"data":{"name":"one"},"mark":{"type":"rect","color":"#1f1e34"},
 "encoding":{"x":{"datum":{"year":2020,"month":10,"date":4,"utc":true},"type":"temporal"},"x2":{"datum":{"year":2022,"month":3,"date":10,"utc":true}},"y":{"datum":30,"type":"quantitative"},"y2":{"datum":70}}},
{"data":{"name":"one"},"mark":{"type":"rule","color":"#787b86","strokeDash":[3,3],"strokeWidth":1},"encoding":{"x":{"datum":{"year":2020,"month":10,"date":4,"utc":true},"type":"temporal"},"x2":{"datum":{"year":2022,"month":3,"date":10,"utc":true}},"y":{"datum":70,"type":"quantitative"}}},
{"data":{"name":"one"},"mark":{"type":"rule","color":"#787b86","strokeDash":[3,3],"strokeWidth":1,"opacity":0.5},"encoding":{"x":{"datum":{"year":2020,"month":10,"date":4,"utc":true},"type":"temporal"},"x2":{"datum":{"year":2022,"month":3,"date":10,"utc":true}},"y":{"datum":50,"type":"quantitative"}}},
{"data":{"name":"one"},"mark":{"type":"rule","color":"#787b86","strokeDash":[3,3],"strokeWidth":1},"encoding":{"x":{"datum":{"year":2020,"month":10,"date":4,"utc":true},"type":"temporal"},"x2":{"datum":{"year":2022,"month":3,"date":10,"utc":true}},"y":{"datum":30,"type":"quantitative"}}},
{"data":{"name":"rsi"},"mark":{"type":"line","color":"#c4b43a","strokeWidth":1,"clip":true},
 "encoding":{"x":{"field":"d","type":"temporal"},"y":{"field":"v","type":"quantitative"}}},
{"data":{"name":"one"},"mark":{"type":"rule","color":"#555862","strokeWidth":1},"encoding":{"y":{"datum":16.6,"type":"quantitative"}}},
{"data":{"name":"one"},"mark":{"type":"text","text":"RSI (14, close)","dx":5,"color":"#d1d4dc"},"encoding":{"x":{"datum":{"year":2020,"month":10,"date":4,"utc":true},"type":"temporal"},"y":{"datum":75.5,"type":"quantitative"}}},
{"data":{"name":"one"},"mark":{"type":"text","text":"50.29","dx":52,"color":"#f0dc3a"},"encoding":{"x":{"datum":{"year":2020,"month":10,"date":4,"utc":true},"type":"temporal"},"y":{"datum":75.5,"type":"quantitative"}}}
]
}
],
"config":{
 "font":"Liberation Sans",
 "view":{"fill":"#131722","stroke":"#555862","strokeWidth":1},
 "axis":{"grid":false,"ticks":false,"domainColor":"#555862","labelColor":"#b2b5be","labelFont":"Liberation Sans","labelFontSize":7.2,"titleFont":"Liberation Sans","labelOverlap":false},
 "text":{"font":"Liberation Sans","fontSize":6.3,"align":"left","baseline":"middle"}
}
}
